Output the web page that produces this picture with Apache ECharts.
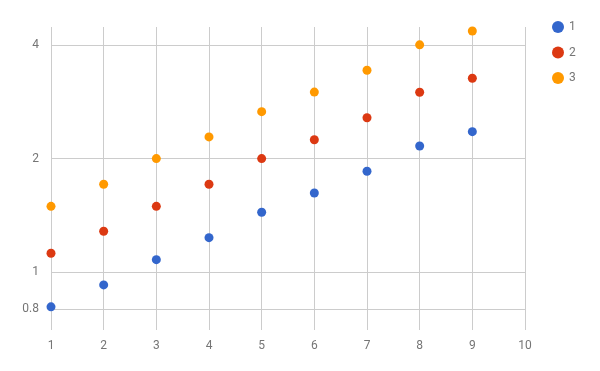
<!DOCTYPE html>
<html>
<head>
<meta charset="utf-8">
<script src="https://cdn.jsdelivr.net/npm/echarts@6/dist/echarts.min.js"></script>
<style>html,body{margin:0;padding:0;background:#fff}#c{width:600px;height:371px}</style>
</head>
<body>
<div id="c"></div>
<script>
const xValues = [1, 2, 3, 4, 5, 6, 7, 8, 9];
const series1 = [0.81, 0.926, 1.08, 1.235, 1.442, 1.622, 1.851, 2.16, 2.357];
const series2 = [1.123, 1.284, 1.495, 1.71, 2.0, 2.244, 2.566, 2.996, 3.263];
const series3 = [1.495, 1.71, 2.0, 2.282, 2.662, 3.0, 3.427, 4.0, 4.354];
const seriesNames = ['1', '2', '3'];
const yTicks = [0.8, 1, 2, 4];
const xTicks = [1, 2, 3, 4, 5, 6, 7, 8, 9, 10];
const colors = ['#3366cc', '#dc3912', '#ff9900'];

const allSeries = [series1, series2, series3];
const chart = echarts.init(document.getElementById('c'), null, {renderer: 'canvas'});
const textStyle = {color: '#757575', fontFamily: 'Roboto', fontSize: 12};
chart.setOption({
  animation: false,
  color: colors,
  textStyle: textStyle,
  grid: {left: 51, right: 75, top: 27, bottom: 41},
  legend: {
    orient: 'vertical', left: 547, top: 16,
    itemWidth: 12, itemHeight: 12, itemGap: 13.5, icon: 'circle',
    textStyle: textStyle,
    data: seriesNames
  },
  xAxis: {
    type: 'value', min: 1, max: 10, interval: 1,
    axisLine: {show: false}, axisTick: {show: false, customValues: xTicks},
    axisLabel: {customValues: xTicks, margin: 10, color: '#757575', fontFamily: 'Roboto', fontSize: 12},
    splitLine: {show: true, lineStyle: {color: '#cccccc', width: 1}}
  },
  yAxis: {
    type: 'log', logBase: 2, min: 0.7035, max: 4.46,
    axisLine: {show: false},
    axisTick: {show: false, customValues: yTicks},
    axisLabel: {customValues: yTicks, margin: 12, color: '#757575', fontFamily: 'Roboto', fontSize: 12},
    splitLine: {show: true, lineStyle: {color: '#cccccc', width: 1}}
  },
  series: allSeries.map((arr, i) => ({
    name: seriesNames[i],
    type: 'scatter',
    symbolSize: 9,
    itemStyle: {opacity: 1},
    data: xValues.map((x, j) => [x, arr[j]])
  }))
});
</script>
</body>
</html>
